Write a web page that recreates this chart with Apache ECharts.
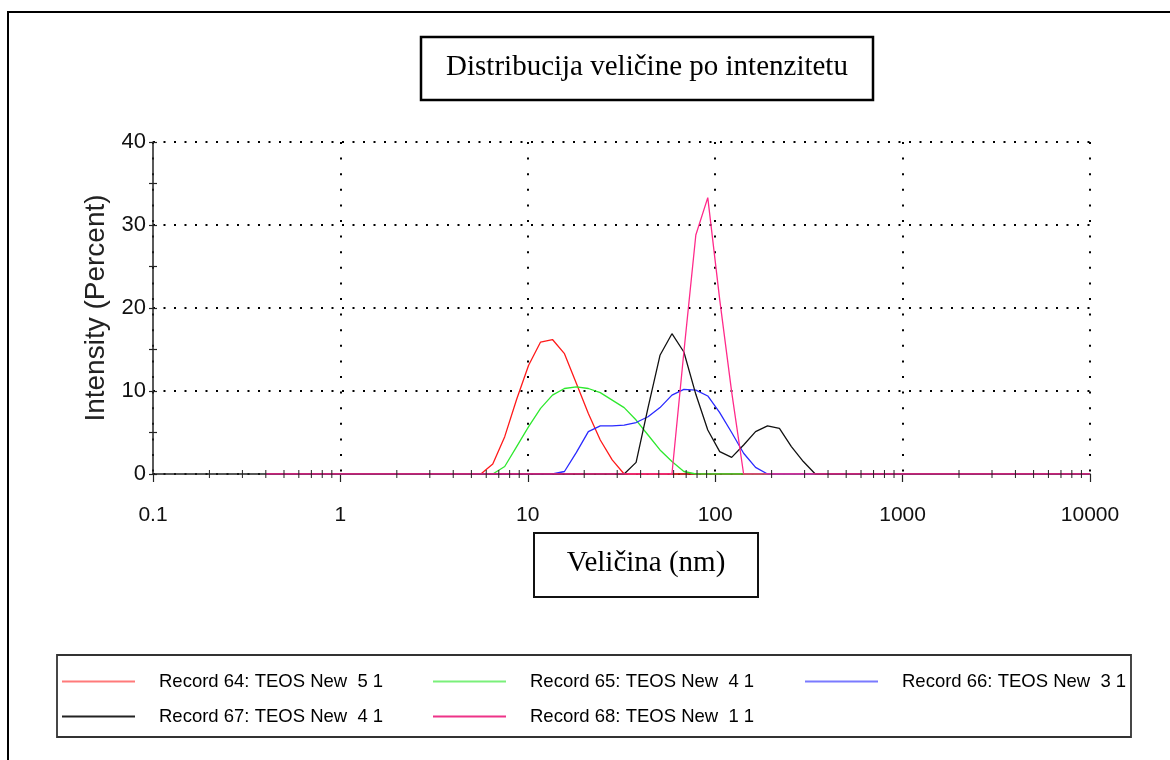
<!DOCTYPE html>
<html>
<head>
<meta charset="utf-8">
<script src="https://cdn.jsdelivr.net/npm/echarts@6/dist/echarts.min.js"></script>
<style>
html,body{margin:0;padding:0;background:#fff;}
#chart{width:1170px;height:760px;}
</style>
</head>
<body>
<div id="chart"></div>
<script>
// Size bins (nm)
const sizes = [0.4,0.4632,0.5365,0.6213,0.7195,0.8332,0.9649,1.117,1.294,1.499,
  1.736,2.01,2.328,2.696,3.122,3.615,4.187,4.849,5.615,6.503,
  7.531,8.721,10.1,11.7,13.54,15.69,18.17,21.04,24.36,28.21,
  32.67,37.84,43.82,50.75,58.77,68.06,78.82,91.28,105.7,122.4,
  141.8,164.2,190.1,220.2,255.0,295.3,342.0,396.1,458.7,531.2,
  615.1,712.4,825.0,955.4,1106,1281,1484,1718,1990,2305,
  2669,3091,3580,4145,4801,5560,6439,7456,8635,10000];

// Intensity (%) per bin
const rec64 = [0,0,0,0,0,0,0,0,0,0, 0,0,0,0,0,0,0,0,0,1.2,
  4.5,9.0,13.1,15.9,16.2,14.5,10.9,7.3,4.1,1.7,
  0,0,0,0,0,0,0,0,0,0, 0,0,0,0,0,0,0,0,0,0,
  0,0,0,0,0,0,0,0,0,0, 0,0,0,0,0,0,0,0,0,0];
const rec65 = [0,0,0,0,0,0,0,0,0,0, 0,0,0,0,0,0,0,0,0,0,
  0.9,3.3,5.7,7.9,9.5,10.3,10.5,10.3,9.8,8.9,
  8.0,6.5,4.7,2.9,1.5,0.3,0,0,0,0, 0,0,0,0,0,0,0,0,0,0,
  0,0,0,0,0,0,0,0,0,0, 0,0,0,0,0,0,0,0,0,0];
const rec66 = [0,0,0,0,0,0,0,0,0,0, 0,0,0,0,0,0,0,0,0,0,
  0,0,0,0,0,0.3,2.6,5.1,5.8,5.8,
  5.9,6.2,6.9,8.0,9.5,10.2,10.1,9.4,7.4,5.0,
  2.5,0.8,0,0,0,0,0,0,0,0,
  0,0,0,0,0,0,0,0,0,0, 0,0,0,0,0,0,0,0,0,0];
const rec67 = [0,0,0,0,0,0,0,0,0,0, 0,0,0,0,0,0,0,0,0,0,
  0,0,0,0,0,0,0,0,0,0,
  0,1.4,8.0,14.3,16.9,14.7,9.6,5.3,2.7,2.0,
  3.5,5.1,5.8,5.5,3.3,1.5,0,0,0,0,
  0,0,0,0,0,0,0,0,0,0, 0,0,0,0,0,0,0,0,0,0];
const rec68 = [0,0,0,0,0,0,0,0,0,0, 0,0,0,0,0,0,0,0,0,0,
  0,0,0,0,0,0,0,0,0,0,
  0,0,0,0,0,14.7,28.8,33.3,21.0,9.9,
  0,0,0,0,0,0,0,0,0,0,
  0,0,0,0,0,0,0,0,0,0, 0,0,0,0,0,0,0,0,0,0];

const seriesNames = ['Record 64: TEOS New  5 1','Record 65: TEOS New  4 1','Record 66: TEOS New  3 1',
  'Record 67: TEOS New  4 1','Record 68: TEOS New  1 1'];
const seriesColors = ['#ff1a1a','#2ee82e','#2a2aff','#111111','#ff2a8a'];
const legendColors = ['#ff7a7a','#7af07a','#7a7aff','#222222','#ee3388'];
const xTickLabels = ['0.1','1','10','100','1000','10000'];
const yTickLabels = ['0','10','20','30','40'];
const xMinorTicks = [0.2,0.3,0.4,0.5,0.6,0.7,0.8,0.9, 2,3,4,5,6,7,8,9,
  20,30,40,50,60,70,80,90, 200,300,400,500,600,700,800,900,
  2000,3000,4000,5000,6000,7000,8000,9000];

const titleText = 'Distribucija veličine po intenzitetu';
const xName = 'Veličina (nm)';
const yName = 'Intensity (Percent)';

const SANS = '"Liberation Sans", Arial, sans-serif';
const SERIF = '"Liberation Serif", "Times New Roman", serif';

const allData = [rec64, rec65, rec66, rec67, rec68];
const series = allData.map((arr, i) => ({
  name: seriesNames[i],
  type: 'line',
  symbol: 'none',
  smooth: false,
  z: 3 + i,
  data: sizes.map((s, k) => [s, arr[k]]),
  lineStyle: { color: seriesColors[i], width: 1.3 },
  itemStyle: { color: seriesColors[i] },
  emphasis: { disabled: true },
  silent: true,
  animation: false
}));

series.push({
  type: 'custom',
  silent: true,
  animation: false,
  z: 10,
  clip: false,
  data: xMinorTicks.map(v => [v, 0]),
  renderItem: function (params, api) {
    const p = api.coord([api.value(0), 0]);
    return { type: 'line', shape: { x1: p[0], y1: p[1] - 4, x2: p[0], y2: p[1] + 4 },
      style: { stroke: '#222', lineWidth: 1 } };
  }
});

const legendPos = [[62, 672], [433, 672], [805, 672], [62, 707], [433, 707]];
const legends = seriesNames.map((n, i) => ({
  data: [{ name: n, icon: 'rect', itemStyle: { color: legendColors[i] } }],
  left: legendPos[i][0],
  top: legendPos[i][1],
  padding: 0,
  itemWidth: 73,
  itemHeight: 2,
  selectedMode: false,
  textStyle: { fontFamily: SANS, fontSize: 18.5, color: '#000', padding: [0, 0, 0, 19] }
}));

const chart = echarts.init(document.getElementById('chart'), null, { renderer: 'canvas' });
chart.setOption({
  animation: false,
  backgroundColor: '#fff',
  grid: { left: 153, top: 142, right: 80, bottom: 286 },
  legend: legends,
  xAxis: {
    type: 'log',
    logBase: 10,
    min: 0.1,
    max: 10000,
    axisLine: { show: true, onZero: false, lineStyle: { color: '#222', width: 1.5 } },
    axisTick: { show: true, length: 8, lineStyle: { color: '#222', width: 1.2 } },
    axisLabel: {
      margin: 31,
      fontFamily: SANS, fontSize: 21, color: '#111',
      formatter: function (v) { return xTickLabels[Math.round(Math.log10(v)) + 1]; }
    },
    splitLine: { show: true, lineStyle: { color: '#000', type: [2, 13.6], width: 2 } },
    minorTick: { show: false }
  },
  yAxis: [{
    type: 'value',
    min: 0, max: 40, interval: 10,
    name: yName,
    nameLocation: 'middle',
    nameGap: 33,
    nameTextStyle: { fontFamily: SANS, fontSize: 28, color: '#222' },
    axisLine: { show: true, lineStyle: { color: '#222', width: 1.5 } },
    axisTick: { show: true, length: 4, lineStyle: { color: '#222', width: 1.2 } },
    minorTick: { show: true, splitNumber: 2, length: 4, lineStyle: { color: '#222', width: 1.2 } },
    axisLabel: {
      margin: 7,
      fontFamily: SANS, fontSize: 22, color: '#111',
      formatter: function (v) { return yTickLabels[Math.round(v / 10)]; }
    },
    splitLine: { show: true, lineStyle: { color: '#000', type: [2, 8.5], width: 2 } }
  }, {
    type: 'value',
    min: 0, max: 40, interval: 10,
    position: 'left',
    axisLine: { show: false },
    axisTick: { show: true, inside: true, length: 4, lineStyle: { color: '#222', width: 1.2 } },
    minorTick: { show: true, splitNumber: 2, length: 4, lineStyle: { color: '#222', width: 1.2 } },
    axisLabel: { show: false },
    splitLine: { show: false }
  }],
  series: series,
  graphic: [
    { type: 'polyline', silent: true, shape: { points: [[8, 760], [8, 12], [1170, 12]] },
      style: { stroke: '#000', lineWidth: 2, fill: null } },
    { type: 'rect', silent: true, shape: { x: 421, y: 37, width: 452, height: 63 },
      style: { stroke: '#000', lineWidth: 2.5, fill: '#fff' }, z: 20 },
    { type: 'text', silent: true, x: 647, y: 67, z: 21,
      style: { text: titleText, font: '29px ' + SERIF, fill: '#000', align: 'center', verticalAlign: 'middle' } },
    { type: 'rect', silent: true, shape: { x: 534, y: 533, width: 224, height: 64 },
      style: { stroke: '#111', lineWidth: 2, fill: '#fff' }, z: 20 },
    { type: 'text', silent: true, x: 646, y: 563, z: 21,
      style: { text: xName, font: '29px ' + SERIF, fill: '#000', align: 'center', verticalAlign: 'middle' } },
    { type: 'rect', silent: true, shape: { x: 57, y: 655, width: 1074, height: 82 },
      style: { stroke: '#333', lineWidth: 1.8, fill: null }, z: 1 }
  ]
});
</script>
</body>
</html>
